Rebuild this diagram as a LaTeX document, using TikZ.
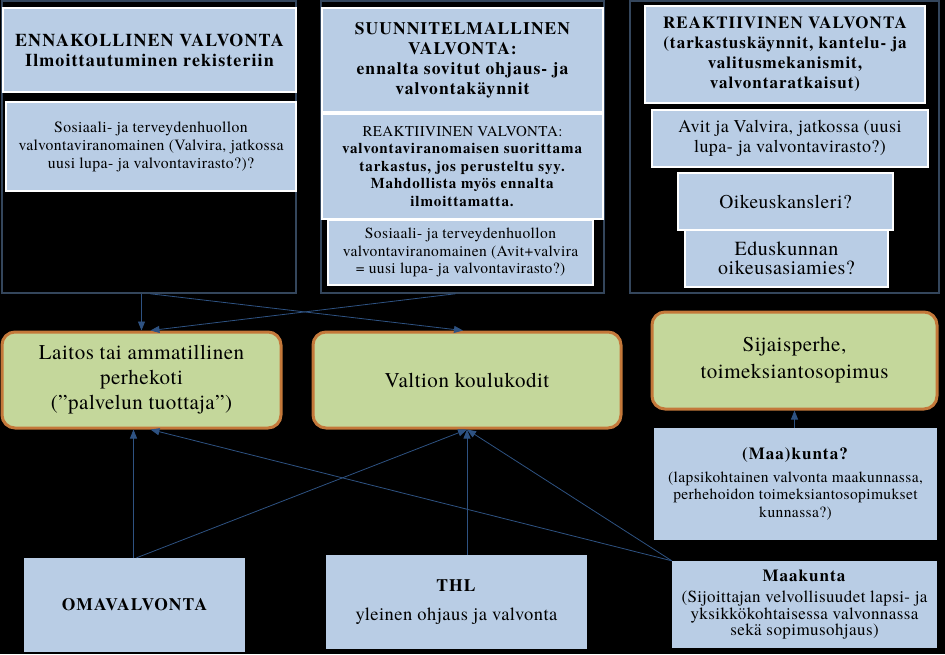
\documentclass[tikz,border=0pt]{standalone}
\usepackage{fontspec}
\setmainfont{texgyretermes}[Extension=.otf, UprightFont=*-regular, BoldFont=*-bold, ItalicFont=*-italic, BoldItalicFont=*-bolditalic, UprightFeatures={LetterSpace=2.5}, BoldFeatures={LetterSpace=6}]
\usetikzlibrary{arrows.meta,calc}
\definecolor{lb}{HTML}{B9CDE5}
\definecolor{contc}{HTML}{34465C}
\definecolor{arrc}{HTML}{2E5282}
\definecolor{gfill}{HTML}{C4D79B}
\definecolor{gdraw}{HTML}{C4783A}
\begin{document}
\begin{tikzpicture}[x=1pt,y=-1pt,
  cont/.style={draw=contc, line width=1.5pt, inner sep=0pt},
  wbox/.style={fill=lb, draw=white, line width=2pt, inner sep=0pt, align=center, text=black},
  pbox/.style={fill=lb, inner sep=0pt, align=center, text=black},
  gbox/.style={fill=gfill, draw=gdraw, line width=3pt, rounded corners=13pt, inner sep=0pt, align=center, text=black},
  arr/.style={draw=arrc, line width=0.8pt, -{Triangle[length=9pt,width=7pt]}},
  fb/.style={font=\fontsize{#1}{20}\selectfont\bfseries},
  fr/.style={font=\fontsize{#1}{18}\selectfont}
]
\fill[black] (0,0) rectangle (945,654);
\useasboundingbox (0,0) rectangle (945,654);

% containers
\node[cont, minimum width=294pt, minimum height=292pt] (c1) at (149,147) {};
\node[cont, minimum width=283pt, minimum height=292pt] (c2) at (462.5,147) {};
\node[cont, minimum width=309pt, minimum height=292pt] (c3) at (784.5,147) {};

% column 1
\node[wbox, minimum width=293pt, minimum height=84pt, fb=18] (h1) at (149.5,50)
  {ENNAKOLLINEN VALVONTA\\Ilmoittautuminen rekisteriin};
\node[wbox, minimum width=290pt, minimum height=89pt, fr=15.7] (s1) at (151,146.5)
  {Sosiaali- ja terveydenhuollon\\valvontaviranomainen (Valvira, jatkossa\\uusi lupa- ja valvontavirasto?)?};

% column 2
\node[wbox, minimum width=281pt, minimum height=104pt, fb=17.5] (h2) at (462.5,60)
  {SUUNNITELMALLINEN\\VALVONTA:\\ennalta sovitut ohjaus- ja\\valvontakäynnit};
\node[wbox, minimum width=281pt, minimum height=105pt, font=\fontsize{15}{17.5}\selectfont] (r2) at (462.5,166.5)
  {REAKTIIVINEN VALVONTA:\\\textbf{valvontaviranomaisen suorittama}\\\textbf{tarkastus, jos perusteltu syy.}\\\textbf{Mahdollista myös ennalta}\\\textbf{ilmoittamatta.}};
\node[wbox, minimum width=265pt, minimum height=65pt, font=\fontsize{15.5}{17.5}\selectfont] (s2) at (460.5,252.5)
  {Sosiaali- ja terveydenhuollon\\valvontaviranomainen (Avit+valvira\\= uusi lupa- ja valvontavirasto?)};

% column 3
\node[wbox, minimum width=280pt, minimum height=97pt, fb=17] (h3) at (785,54.5)
  {REAKTIIVINEN VALVONTA\\(tarkastuskäynnit, kantelu- ja\\valitusmekanismit,\\valvontaratkaisut)};
\node[wbox, minimum width=276pt, minimum height=57pt, font=\fontsize{18}{20}\selectfont] (a3) at (790,138.5)
  {Avit ja Valvira, jatkossa (uusi\\lupa- ja valvontavirasto?)};
\node[wbox, minimum width=203pt, minimum height=57pt, font=\fontsize{20}{19.5}\selectfont] (e3) at (786.5,258.5)
  {Eduskunnan\\oikeusasiamies?};
\node[wbox, minimum width=215pt, minimum height=57pt, font=\fontsize{19.5}{20}\selectfont] (o3) at (785.5,201.5)
  {Oikeuskansleri?};

% green boxes
\node[gbox, minimum width=279pt, minimum height=96pt, font=\fontsize{21}{25}\selectfont] (laitos) at (141.5,380)
  {Laitos tai ammatillinen\\perhekoti\\(”palvelun tuottaja”)};
\node[gbox, minimum width=308pt, minimum height=96pt, font=\fontsize{21}{25}\selectfont] (valtion) at (467,380)
  {Valtion koulukodit};
\node[gbox, minimum width=285pt, minimum height=97pt, font=\fontsize{21}{27}\selectfont] (sijais) at (794.5,360.5)
  {Sijaisperhe,\\toimeksiantosopimus};

% lower boxes
\node[pbox, minimum width=283pt, minimum height=112pt, font=\fontsize{15.5}{17.5}\selectfont] (kunta) at (795.5,484)
  {\textbf{\fontsize{17}{20}\selectfont (Maa)kunta?}\\[5pt](lapsikohtainen valvonta maakunnassa,\\perhehoidon toimeksiantosopimukset\\kunnassa?)};
\node[pbox, minimum width=221pt, minimum height=94pt, fb=17.5] (oma) at (134.5,605)
  {OMAVALVONTA};
\node[pbox, minimum width=261pt, minimum height=94pt, font=\fontsize{18.5}{20}\selectfont] (thl) at (456.5,602)
  {\textbf{\fontsize{17.5}{20}\selectfont THL}\\[9pt]yleinen ohjaus ja valvonta};
\node[pbox, minimum width=265pt, minimum height=87pt, font=\fontsize{17}{16.5}\selectfont] (maak) at (804.5,604.5)
  {\textbf{Maakunta}\\[5pt](Sijoittajan velvollisuudet lapsi- ja\\yksikkökohtaisessa valvonnassa\\sekä sopimusohjaus)};

% connectors
\draw[arr] (c1.south -| laitos.north) -- (laitos.north);
\draw[arr] ([xshift=1pt]c1.south) -- ([xshift=-4pt]valtion.north);
\draw[arr] ([xshift=-7pt]c2.south) -- ([xshift=9pt]laitos.north);
\draw[arr] ([xshift=-1pt]oma.north) -- ([xshift=-1pt]oma.north |- laitos.south);
\draw[arr] ([xshift=2pt]oma.north) -- (valtion.south);
\draw[arr] (thl.north -| valtion.south) -- (valtion.south);
\coordinate (mk) at (maak.north west);
\draw[arr] (mk) -- ([xshift=9pt]laitos.south);
\draw[arr] (mk) -- (valtion.south);
\draw[arr] (kunta.north -| sijais.south) -- (sijais.south);
\end{tikzpicture}
\end{document}
